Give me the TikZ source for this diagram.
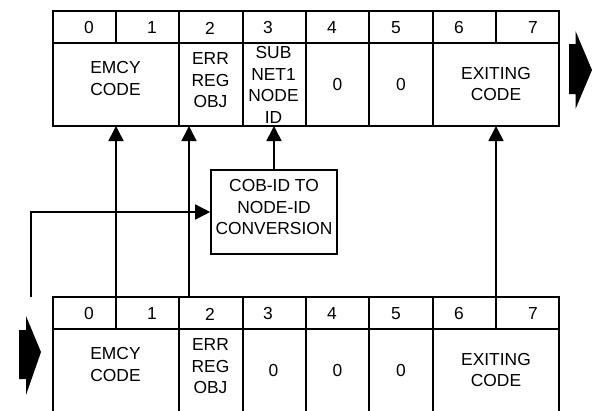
\documentclass[tikz,border=0pt]{standalone}
\usepackage{fontspec}
\setmainfont{Liberation Sans}
\usetikzlibrary{arrows.meta}
\begin{document}
\begin{tikzpicture}[x=1pt,y=-1pt,
  tbl/.style={line width=1.6pt},
  conn/.style={line width=1.6pt,-{Triangle[width=15pt,length=15pt]}},
  txt/.style={font=\fontsize{17.4}{21.5}\selectfont, align=center, inner sep=0pt},
  boxnode/.style={draw, line width=1.6pt, minimum width=126pt, minimum height=84pt, inner sep=0pt},
  blockarrow/.style={fill=black, draw=none}]
\useasboundingbox (0,0) rectangle (592,410);
\clip (0,0) rectangle (592,410);

% ---- two message tables (top: shift 0, bottom: shift 286) ----
\foreach \dy/\nm/\third in {0/t/{SUB\\NET1\\NODE\\ID}, 286/b/0} {
  \begin{scope}[shift={(0,\dy)}]
    \draw[tbl] (53,11) rectangle (559,126);
    \draw[tbl] (53,43) -- (559,43);
    \foreach \x in {179,243,306,369,433} \draw[tbl] (\x,11) -- (\x,126);
    \foreach \x in {116,496} \draw[tbl] (\x,11) -- (\x,43);
    \node[txt] (\nm h0) at (89,28) {0};
    \node[txt] (\nm h1) at (152,28) {1};
    \node[txt] (\nm h2) at (210,28) {2};
    \node[txt] (\nm h3) at (268,28) {3};
    \node[txt] (\nm h4) at (332,28) {4};
    \node[txt] (\nm h5) at (396,28) {5};
    \node[txt] (\nm h6) at (459,28) {6};
    \node[txt] (\nm h7) at (533,28) {7};
    \node[txt] (\nm emcy) at (115.5,78.5) {EMCY\\CODE};
    \node[txt] (\nm err) at (210.5,80.5) {ERR\\REG\\OBJ};
    \node[txt] (\nm b3) at (273.5,85) {\third};
    \node[txt] (\nm b4) at (337.5,84.5) {0};
    \node[txt] (\nm b5) at (401,84.5) {0};
    \node[txt] (\nm exit) at (496,84) {EXITING\\CODE};
    \coordinate (\nm top) at (0,11);
    \coordinate (\nm bot) at (0,126);
  \end{scope}
}

% ---- conversion box ----
\node[boxnode] (conv) at (274,212) {};
\node[txt] (convtxt) at (274,207.5) {COB-ID TO\\NODE-ID\\CONVERSION};

% ---- connectors ----
\coordinate (srcA) at (116,297);
\coordinate (srcB) at (189,297);
\coordinate (srcC) at (496,297);
\coordinate (srcD) at (31,297);
\draw[conn] (srcA) -- (srcA |- tbot);
\draw[conn] (srcB) -- (srcB |- tbot);
\draw[conn] (srcC) -- (srcC |- tbot);
\draw[conn] (conv.north) -- (conv.north |- tbot);
\draw[conn] (srcD) |- (conv.west);

% ---- block arrows ----
\fill[blockarrow] (569,44) -- (575.5,44) -- (575.5,31) -- (592,70) -- (575.5,109) -- (575.5,94) -- (569,94) -- cycle;
\fill[blockarrow] (19,330) -- (26,330) -- (26,316) -- (41,352) -- (26,395) -- (26,379) -- (19,379) -- cycle;
\end{tikzpicture}
\end{document}
